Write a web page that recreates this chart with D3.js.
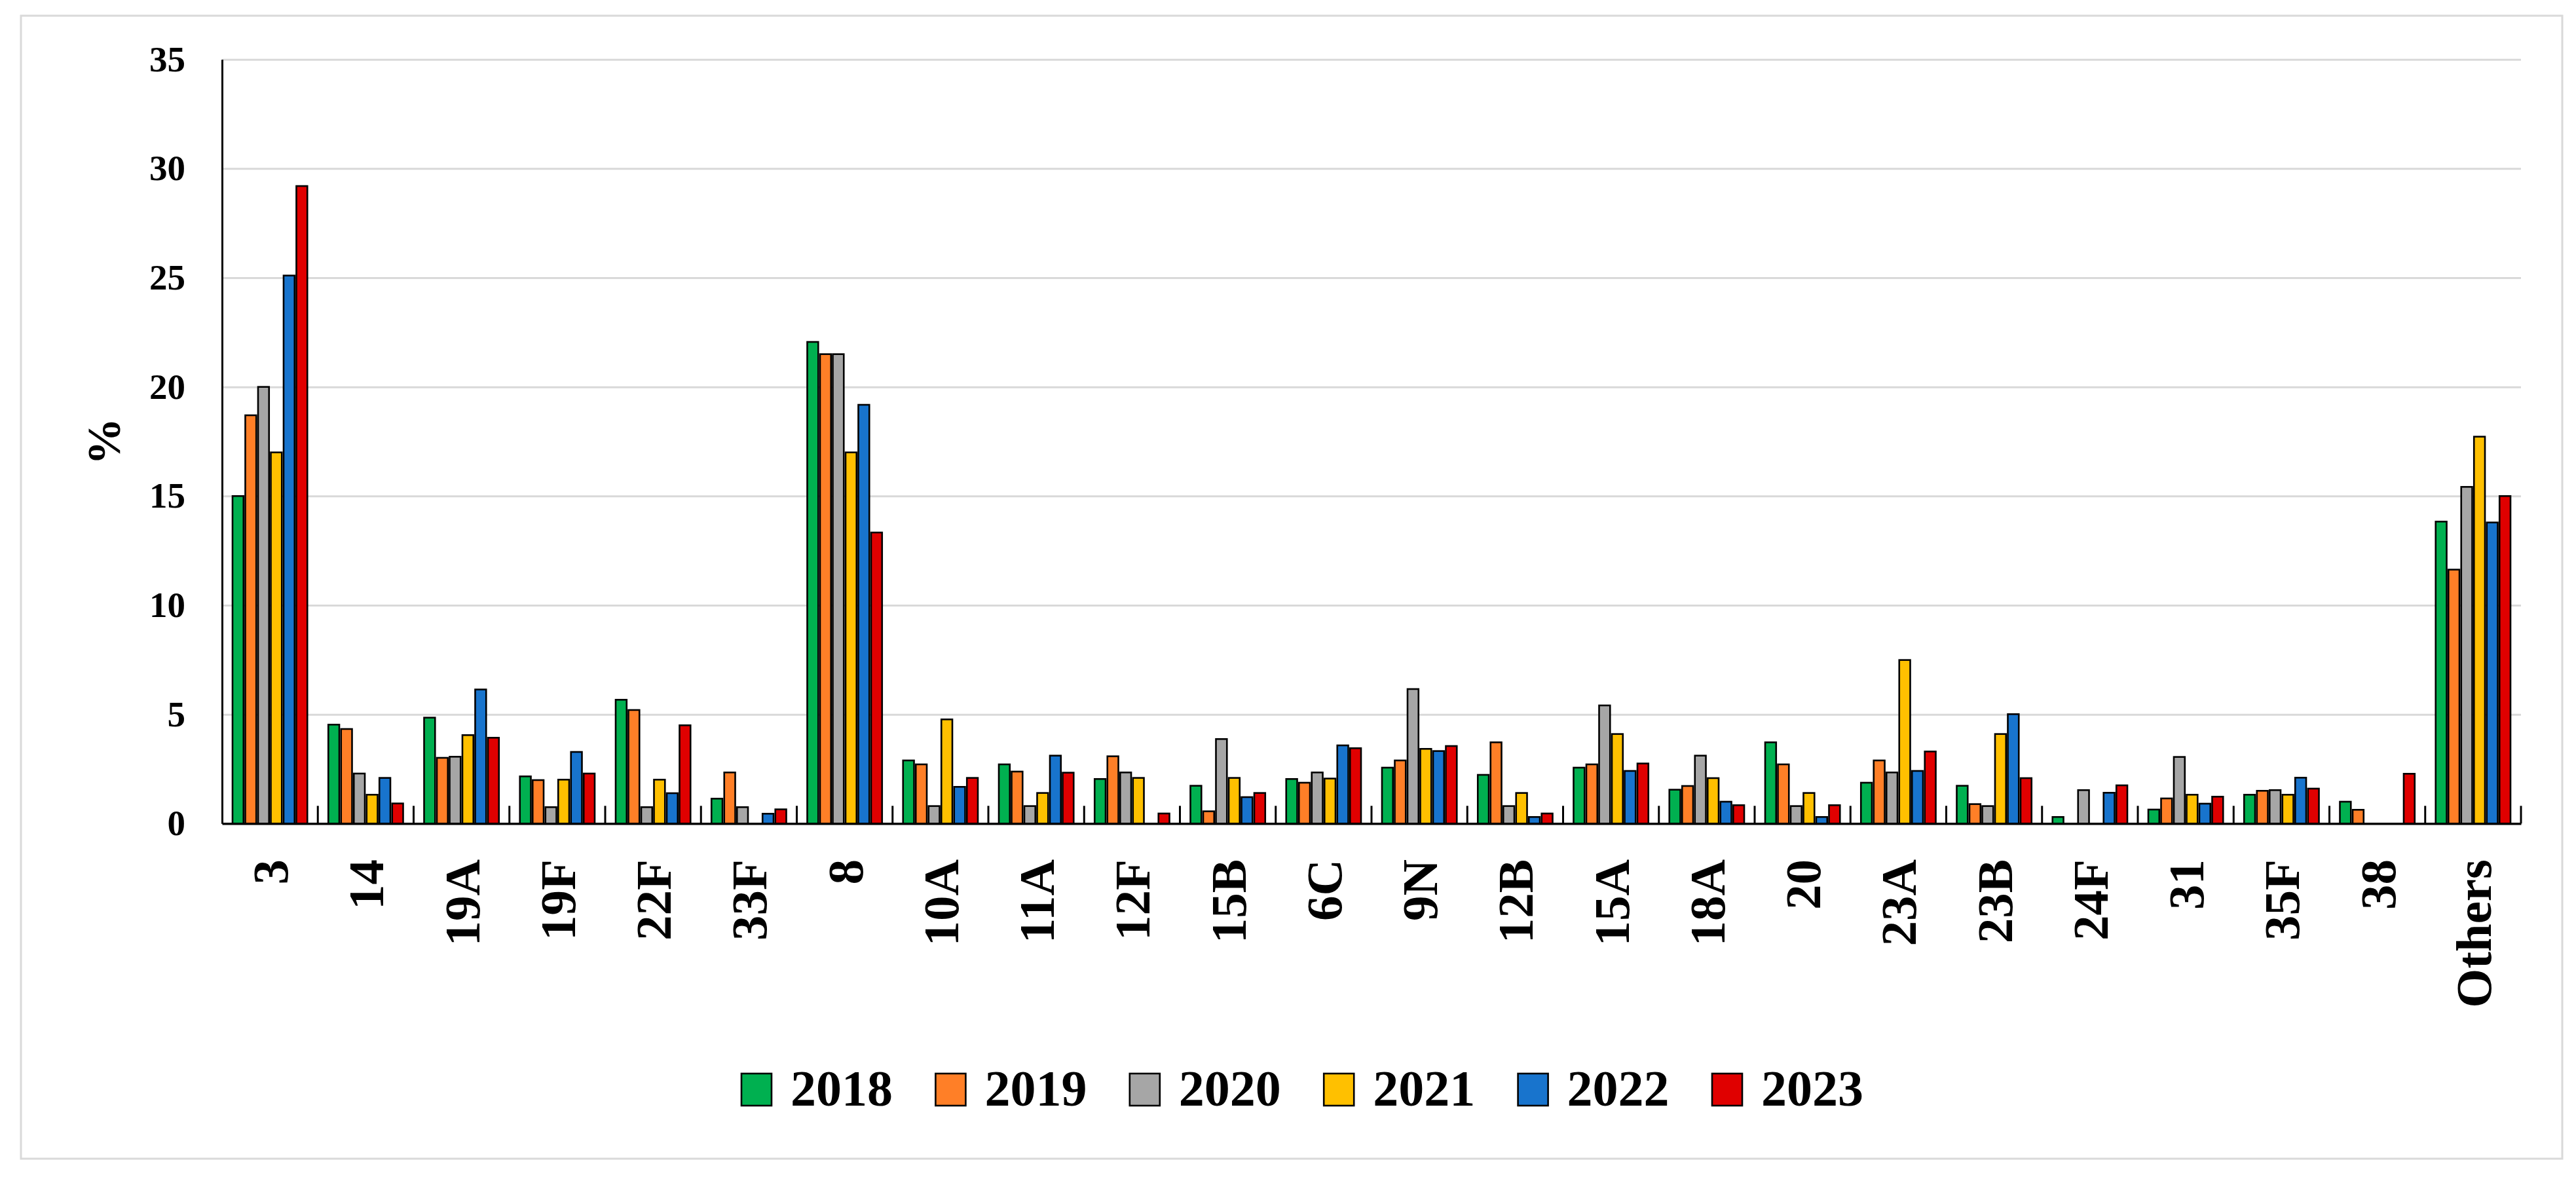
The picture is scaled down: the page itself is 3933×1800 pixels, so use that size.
<!DOCTYPE html>
<html>
<head>
<meta charset="utf-8">
<script src="https://cdn.jsdelivr.net/npm/d3@7"></script>
<style>
  html, body { margin: 0; padding: 0; background: #ffffff; }
  svg { display: block; }
</style>
</head>
<body>
<div id="chart"></div>
<script>
// ---------------- DATA ----------------
const categories = ["3","14","19A","19F","22F","33F","8","10A","11A","12F","15B","6C","9N","12B","15A","18A","20","23A","23B","24F","31","35F","38","Others"];
const years = ["2018","2019","2020","2021","2022","2023"];

const v2018 = [15.0, 4.53, 4.85, 2.16, 5.67, 1.14, 22.06, 2.89, 2.71, 2.04, 1.73, 2.04, 2.56, 2.23, 2.56, 1.55, 3.72, 1.87, 1.73, 0.30, 0.64, 1.32, 1.00, 13.83];
const v2019 = [18.7, 4.33, 3.01, 1.99, 5.20, 2.34, 21.5, 2.71, 2.38, 3.08, 0.56, 1.87, 2.89, 3.72, 2.71, 1.72, 2.71, 2.89, 0.89, null, 1.15, 1.50, 0.63, 11.63];
const v2020 = [20.0, 2.29, 3.06, 0.75, 0.75, 0.75, 21.5, 0.80, 0.80, 2.34, 3.87, 2.34, 6.16, 0.80, 5.41, 3.11, 0.80, 2.34, 0.80, 1.53, 3.05, 1.53, null, 15.42];
const v2021 = [17.0, 1.32, 4.05, 2.01, 2.01, null, 17.0, 4.77, 1.40, 2.09, 2.09, 2.06, 3.42, 1.40, 4.10, 2.08, 1.40, 7.49, 4.10, null, 1.32, 1.32, null, 17.72];
const v2022 = [25.1, 2.09, 6.14, 3.28, 1.39, 0.45, 19.18, 1.68, 3.11, null, 1.21, 3.58, 3.32, 0.30, 2.41, 1.00, 0.30, 2.41, 5.01, 1.41, 0.91, 2.10, null, 13.79];
const v2023 = [29.2, 0.92, 3.93, 2.29, 4.50, 0.65, 13.33, 2.09, 2.33, 0.46, 1.40, 3.45, 3.55, 0.46, 2.75, 0.84, 0.84, 3.30, 2.08, 1.75, 1.23, 1.60, 2.28, 15.0];

const yTicks = [0, 5, 10, 15, 20, 25, 30, 35];
const yTitle = "%";
const colors = ["#00B050", "#FF7F27", "#A6A6A6", "#FFC000", "#1874CD", "#E00000"];

const seriesValues = [v2018, v2019, v2020, v2021, v2022, v2023];

// ---------------- LAYOUT ----------------
const W = 3933, H = 1800;
const plotL = 339, plotR = 3849, plotT = 90.7, plotB = 1257.3;
const FONT = "'Liberation Serif', 'DejaVu Serif', serif";

const svg = d3.select("#chart").append("svg")
  .attr("width", W).attr("height", H)
  .attr("viewBox", `0 0 ${W} ${H}`);

svg.append("rect").attr("width", W).attr("height", H).attr("fill", "#ffffff");

// outer frame
svg.append("rect")
  .attr("x", 32).attr("y", 24).attr("width", 3880).attr("height", 1745)
  .attr("fill", "none").attr("stroke", "#d9d9d9").attr("stroke-width", 3);

const x = d3.scaleBand().domain(categories).range([plotL, plotR]).padding(0);
const xi = d3.scaleBand().domain(years).range([16, x.bandwidth() - 16]).paddingInner(0.14);
const y = d3.scaleLinear().domain([0, 35]).range([plotB, plotT]);

// gridlines
const grid = svg.append("g")
  .attr("transform", `translate(${plotL},0)`)
  .call(d3.axisLeft(y).tickValues(yTicks.filter(t => t > 0)).tickSize(-(plotR - plotL)).tickFormat(""));
grid.select(".domain").remove();
grid.selectAll("line").attr("stroke", "#d9d9d9").attr("stroke-width", 3);

// bars
const rows = [];
categories.forEach((c, i) => {
  years.forEach((yr, j) => {
    const v = seriesValues[j][i];
    if (v !== null && v !== undefined) rows.push({ c, yr, v, j });
  });
});

svg.append("g").selectAll("rect").data(rows).join("rect")
  .attr("x", d => x(d.c) + xi(d.yr))
  .attr("y", d => y(d.v))
  .attr("width", xi.bandwidth())
  .attr("height", d => y(0) - y(d.v))
  .attr("fill", d => colors[d.j])
  .attr("stroke", "#000")
  .attr("stroke-width", 2.6);

// y axis (line + labels)
const yAxis = svg.append("g")
  .attr("transform", `translate(${plotL},0)`)
  .call(d3.axisLeft(y).tickValues(yTicks).tickSize(0).tickPadding(56));
yAxis.select(".domain").attr("stroke", "#000").attr("stroke-width", 3);
yAxis.selectAll("text")
  .attr("font-family", FONT).attr("font-weight", "bold")
  .attr("font-size", 55).attr("fill", "#000");

// x axis
const xAxis = svg.append("g")
  .attr("transform", `translate(0,${plotB})`)
  .call(d3.axisBottom(x).tickSize(0).tickFormat(""));
xAxis.select(".domain").attr("stroke", "#000").attr("stroke-width", 3.5);

// inward tick marks at group boundaries
svg.append("g").selectAll("line").data(categories).join("line")
  .attr("x1", c => x(c) + x.bandwidth())
  .attr("x2", c => x(c) + x.bandwidth())
  .attr("y1", plotB)
  .attr("y2", plotB - 27)
  .attr("stroke", "#000").attr("stroke-width", 3);

// x labels (rotated)
svg.append("g").selectAll("text").data(categories).join("text")
  .attr("transform", c => `translate(${x(c) + x.bandwidth() / 2},1312) rotate(-90)`)
  .attr("text-anchor", "end")
  .attr("dy", "0.35em")
  .attr("font-family", FONT).attr("font-weight", "bold")
  .attr("font-size", 77).attr("fill", "#000")
  .text(c => c);

// y title
svg.append("text")
  .attr("transform", `translate(158,${(plotT + plotB) / 2}) rotate(-90)`)
  .attr("text-anchor", "middle")
  .attr("dy", "0.35em")
  .attr("font-family", FONT).attr("font-weight", "bold")
  .attr("font-size", 72).attr("fill", "#000")
  .text(yTitle);

// legend
const lx = d3.scalePoint().domain(years).range([1132, 2614]);
const leg = svg.append("g").selectAll("g").data(years).join("g")
  .attr("transform", d => `translate(${lx(d)},0)`);
leg.append("rect")
  .attr("x", 0).attr("y", 1639).attr("width", 46).attr("height", 49)
  .attr("fill", (d, i) => colors[i])
  .attr("stroke", "#000").attr("stroke-width", 2.6);
leg.append("text")
  .attr("x", 75).attr("y", 1688)
  .attr("font-family", FONT).attr("font-weight", "bold")
  .attr("font-size", 78).attr("fill", "#000")
  .text(d => d);
</script>
</body>
</html>
